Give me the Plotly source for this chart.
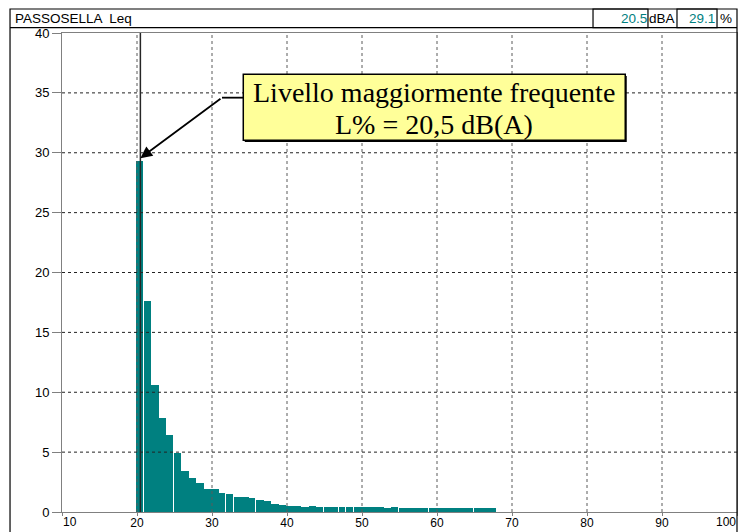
import plotly.graph_objects as go

# ---- data ----
bin_start = list(range(20, 68))  # dB(A) classes, 1 dB wide
percent = [29.3, 17.6, 10.6, 7.85, 6.4, 4.9, 3.4, 2.8, 2.4, 1.9,
           1.9, 1.6, 1.5, 1.25, 1.25, 1.15, 1.0, 0.9, 0.65, 0.58,
           0.5, 0.5, 0.45, 0.5, 0.45, 0.42, 0.42, 0.42, 0.42, 0.42,
           0.42, 0.42, 0.42, 0.37, 0.42, 0.33, 0.33, 0.33, 0.33, 0.33,
           0.33, 0.33, 0.33, 0.33, 0.33, 0.33, 0.33, 0.33]
x_ticks = [10, 20, 30, 40, 50, 60, 70, 80, 90, 100]
y_ticks = [0, 5, 10, 15, 20, 25, 30, 35, 40]
cursor_level = 20.45
title_text = "PASSOSELLA  Leq"
readout_level = "20.5"
readout_unit = "dBA"
readout_pct = "29.1"
callout_lines = ["Livello maggiormente frequente", "L% = 20,5 dB(A)"]

# bars followed by a small white gap in the reference rendering
gap_after = {20, 24, 31, 32, 35, 44, 46, 47, 48, 54, 58, 64}
widths = [0.84 if b in gap_after else 1.0 for b in bin_start]

# end labels are drawn inside the plot width (left/right aligned), as in the reference
x_ticktext = [str(v) for v in x_ticks]
x_ticktext[0] = ""
x_ticktext[-1] = ""

TEAL = "#008080"
SANS = "Liberation Sans, Arial, sans-serif"
SERIF = "Liberation Serif, Times New Roman, serif"

fig = go.Figure()
fig.add_trace(go.Bar(
    x=bin_start, y=percent, width=widths, offset=-0.1,
    marker=dict(color=TEAL, line=dict(width=0)),
    hoverinfo="x+y",
))

shapes = []
# grid lines drawn above the bars
for v in x_ticks[1:-1]:
    shapes.append(dict(type="line", xref="x", yref="y", x0=v, x1=v,
                       y0=y_ticks[0], y1=y_ticks[-1], layer="above",
                       line=dict(color="#5a5a5a", width=1, dash="3px,3px")))
for v in y_ticks[1:-1]:
    shapes.append(dict(type="line", xref="x", yref="y", y0=v, y1=v,
                       x0=x_ticks[0], x1=x_ticks[-1], layer="above",
                       line=dict(color="#222222", width=1, dash="3px,3px")))
# cursor line
shapes.append(dict(type="line", xref="x", yref="y", x0=cursor_level, x1=cursor_level,
                   y0=y_ticks[0], y1=y_ticks[-1], layer="above",
                   line=dict(color="#262626", width=1.5)))

# callout box
bx0, bx1, by0, by1 = 34.17, 85.1, 31.05, 36.56
shapes.append(dict(type="rect", xref="x", yref="y", x0=bx0 + 0.2, x1=bx1 + 0.2,
                   y0=by0 - 0.15, y1=by1 - 0.15, layer="above",
                   fillcolor="#000000", line=dict(width=0)))
shapes.append(dict(type="rect", xref="x", yref="y", x0=bx0, x1=bx1, y0=by0, y1=by1,
                   layer="above", fillcolor="#FFFF99",
                   line=dict(color="#000000", width=1.5)))
# leader line horizontal part
elbow_x, elbow_y = 31.33, 34.6
shapes.append(dict(type="line", xref="x", yref="y", x0=elbow_x, x1=bx0,
                   y0=elbow_y, y1=elbow_y, layer="above",
                   line=dict(color="#000000", width=1.8)))

# outer frame and title bar (paper coords)
fx0, fx1 = -0.077, 1.0
ty0, ty1 = 1.0111, 1.0501
shapes.append(dict(type="rect", xref="paper", yref="paper", x0=fx0, x1=fx1,
                   y0=-0.2, y1=ty1, line=dict(color="#000000", width=1.2)))
shapes.append(dict(type="line", xref="paper", yref="paper", x0=fx0, x1=fx1,
                   y0=ty0, y1=ty0, line=dict(color="#000000", width=1.2)))
shapes.append(dict(type="rect", xref="paper", yref="paper", x0=0.7867, x1=0.8681,
                   y0=ty0, y1=ty1, line=dict(color="#000000", width=1.2)))
shapes.append(dict(type="rect", xref="paper", yref="paper", x0=0.9111, x1=0.9704,
                   y0=ty0, y1=ty1, line=dict(color="#000000", width=1.2)))

annotations = [
    dict(xref="paper", yref="paper", x=-0.073, y=(ty0 + ty1) / 2, text=title_text,
         xanchor="left", yanchor="middle", showarrow=False,
         font=dict(family=SANS, size=13.5, color="#000000")),
    dict(xref="paper", yref="paper", x=0.8675, y=(ty0 + ty1) / 2, text=readout_level,
         xanchor="right", yanchor="middle", showarrow=False, borderpad=0,
         font=dict(family=SANS, size=13.5, color=TEAL)),
    dict(xref="paper", yref="paper", x=0.8685, y=(ty0 + ty1) / 2, text=readout_unit,
         xanchor="left", yanchor="middle", showarrow=False, borderpad=0,
         font=dict(family=SANS, size=13.5, color="#000000")),
    dict(xref="paper", yref="paper", x=0.9685, y=(ty0 + ty1) / 2, text=readout_pct,
         xanchor="right", yanchor="middle", showarrow=False, borderpad=0,
         font=dict(family=SANS, size=13.5, color=TEAL)),
    dict(xref="paper", yref="paper", x=0.9735, y=(ty0 + ty1) / 2, text="%",
         xanchor="left", yanchor="middle", showarrow=False, borderpad=0,
         font=dict(family=SANS, size=13.5, color="#000000")),
    # arrow to the modal bar
    dict(xref="x", yref="y", axref="x", ayref="y", x=cursor_level, y=29.55,
         ax=elbow_x, ay=elbow_y, text="", showarrow=True, arrowhead=2,
         arrowsize=1.3, arrowwidth=1.8, arrowcolor="#000000", standoff=0),
    dict(xref="x", yref="y", x=(bx0 + bx1) / 2, y=35.05, text=callout_lines[0],
         showarrow=False, xanchor="center", yanchor="middle",
         font=dict(family=SERIF, size=28, color="#000000")),
    dict(xref="x", yref="y", x=(bx0 + bx1) / 2, y=32.4, text=callout_lines[1],
         showarrow=False, xanchor="center", yanchor="middle",
         font=dict(family=SERIF, size=28, color="#000000")),
    # end tick labels of the x axis
    dict(xref="x", yref="paper", x=x_ticks[0], y=0, text=str(x_ticks[0]),
         xanchor="left", yanchor="top", yshift=-2, showarrow=False, borderpad=0,
         font=dict(family=SANS, size=12, color="#000000")),
    dict(xref="x", yref="paper", x=x_ticks[-1], y=0, text=str(x_ticks[-1]),
         xanchor="right", yanchor="top", yshift=-2, showarrow=False, borderpad=0,
         font=dict(family=SANS, size=12, color="#000000")),
]

axis_common = dict(
    showgrid=False, zeroline=False, showline=True, linecolor="#808080",
    linewidth=1, mirror=True, ticks="outside", tickcolor="#808080",
    ticklabeloverflow="allow", automargin=False,
)

fig.update_layout(
    width=746, height=532,
    margin=dict(l=62, r=9, t=33, b=20, pad=0, autoexpand=False),
    paper_bgcolor="white", plot_bgcolor="white",
    showlegend=False, bargap=0,
    xaxis=dict(range=[x_ticks[0], x_ticks[-1]], tickvals=x_ticks, ticktext=x_ticktext,
               ticklen=3, ticklabelstandoff=-3,
               tickfont=dict(family=SANS, size=12, color="#000000"), **axis_common),
    yaxis=dict(range=[y_ticks[0], y_ticks[-1]], tickvals=y_ticks, ticklen=9,
               ticklabelstandoff=0,
               tickfont=dict(family=SANS, size=13, color="#000000"), **axis_common),
    shapes=shapes, annotations=annotations,
)

fig.write_html("out.html")
